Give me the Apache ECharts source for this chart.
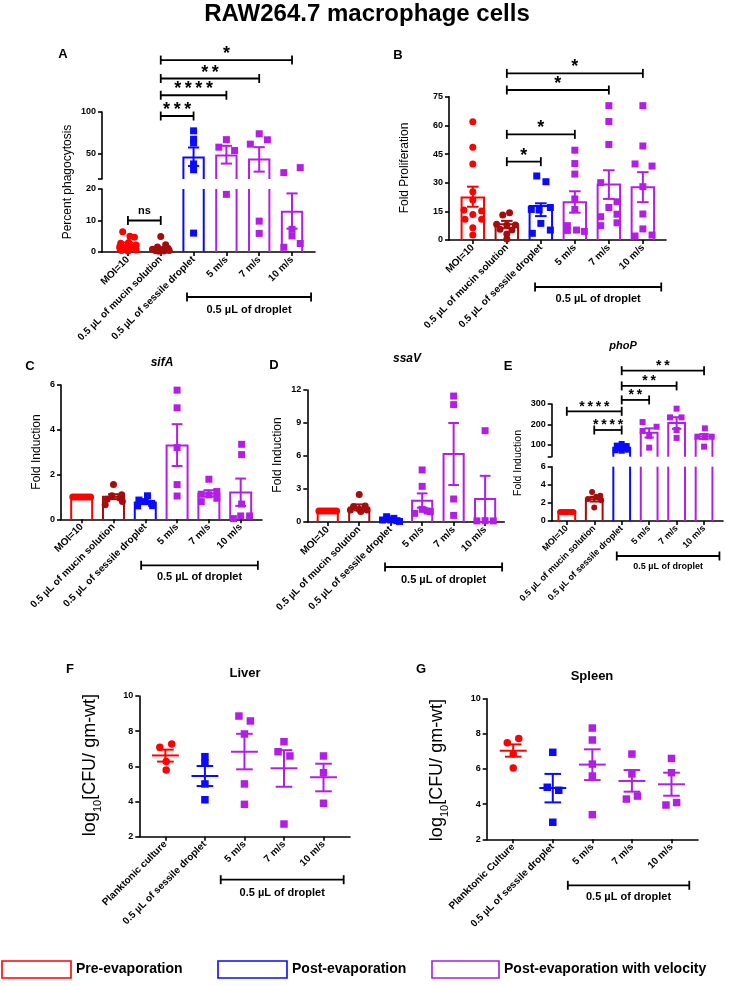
<!DOCTYPE html>
<html>
<head>
<meta charset="utf-8">
<script src="https://cdn.jsdelivr.net/npm/echarts@6/dist/echarts.min.js"></script>
<style>
  html, body { margin: 0; padding: 0; background: #fff; }
  #chart { width: 748px; height: 986px; }
</style>
</head>
<body>
<div id="chart"></div>
<script>
const RED = '#ff0000', DRED = '#a50d0d', BLUE = '#0a0aff', PURP = '#b21ee6';
const FONT = '"Liberation Sans", Arial, Helvetica, sans-serif';
const TS = '\u2009'; // thin space between stars

// categories
const cellCats = ['MOI=10', '0.5 µL of mucin solution', '0.5 µL of sessile droplet', '5 m/s', '7 m/s', '10 m/s'];
const liverCats = ['Planktonic culture', '0.5 µL of sessile droplet', '5 m/s', '7 m/s', '10 m/s'];
const spleenCats = ['Planktonic Culture', '0.5 µL of sessile droplet', '5 m/s', '7 m/s', '10 m/s'];
const cellColors = [RED, DRED, BLUE, PURP, PURP, PURP];
const cellShapes = ['circle', 'circle', 'rect', 'rect', 'rect', 'rect'];
const mouseColors = [RED, BLUE, PURP, PURP, PURP];
const mouseShapes = ['circle', 'rect', 'rect', 'rect', 'rect'];

// A - percent phagocytosis (points: [offset in category, value])
const meanA = [2.2, 1.0, 45.6, 48.0, 43.2, 12.8];
const semA = [[1.5, 3.0], [0.7, 1.4], [35.6, 57.6], [38.4, 59.6], [28.8, 58.0], [7.4, 18.6]];
const ptsA = [
  [[-0.16, 6.4], [0.06, 5.0], [0.2, 4.7], [-0.22, 2.8], [0.02, 3.0], [0.25, 2.2], [-0.25, 1.5], [-0.1, 1.2], [0.1, 1.4], [0.25, 0.6], [-0.2, 0.5], [0.0, 0.3]],
  [[0.0, 4.9], [0.15, 2.3], [-0.1, 1.6], [0.22, 1.2], [-0.25, 0.9], [0.05, 0.8], [0.26, 0.5], [-0.15, 0.4], [0.1, 0.3], [-0.05, 0.2]],
  [[0, 77.5], [0, 67.5], [0, 63], [0, 38], [0, 31], [0, 6]],
  [[-0.23, 58], [0, 67], [0.25, 54], [0, 18.3]],
  [[-0.27, 61.6], [0, 74], [0.25, 66.8], [0, 9.8], [0, 5.9]],
  [[-0.25, 27.6], [0.25, 33.6], [0, 7.2], [0, 5.1], [-0.25, 1.5], [0.25, 2.7]]
];
const sigA = [[1, 2, 95.2, 3, 0], [1, 3, 120, 4, 0], [1, 4, 140, 2, 0], [1, 5, 162, 1, 0], [0, 1, 10, 'ns', 1]];

// B - fold proliferation
const meanB = [22.3, 8.2, 17.8, 19.7, 29.1, 27.6];
const semB = [[17.4, 27.9], [6.2, 10.0], [12.5, 19.2], [14.3, 25.5], [21.5, 36.5], [19.8, 35.5]];
const ptsB = [
  [[0, 61.9], [0, 48.5], [0, 39.8], [0, 25.3], [0, 21], [-0.26, 15.7], [0.26, 15.2], [0, 13.4], [-0.23, 10.8], [0.26, 10.8], [0, 6.4], [0, 2.6]],
  [[0.08, 14.3], [-0.12, 13.1], [-0.3, 8.2], [0, 7.8], [0.25, 7.8], [-0.2, 5.6], [0.15, 5.2], [0, 3.1], [0, 0.5]],
  [[-0.12, 33.5], [0.15, 30.5], [-0.05, 15.7], [0.28, 17], [-0.28, 16], [0, 8.7], [0.28, 5.2], [-0.25, 3.5]],
  [[0, 47], [0, 40], [0, 34.5], [0, 21.5], [0, 16], [-0.22, 7.5], [-0.22, 5], [0.05, 5.2], [0.28, 4.5]],
  [[0, 70.3], [0, 62], [0, 50], [-0.24, 30], [0.24, 20], [0, 17], [-0.24, 12.2], [0.24, 13.5], [0.24, 9], [-0.24, 7.5]],
  [[0, 70.3], [0, 49.2], [-0.23, 39.8], [0.27, 38.7], [0, 27.9], [0, 13.6], [0, 5.8], [-0.23, 2.1], [0.27, 2.6]]
];
const sigB = [[1, 5, 87.2, 1, 0], [1, 4, 78.5, 1, 0], [1, 3, 55.3, 1, 0], [1, 2, 41, 1, 0]];

// C - sifA
const meanC = [1.0, 1.01, 0.75, 3.3, 1.15, 1.2];
const semC = [[1, 1], [0.9, 1.12], [0.68, 0.82], [2.38, 4.25], [1.02, 1.3], [0.6, 1.82]];
const ptsC = [
  [[-0.28, 1], [-0.2, 1], [-0.12, 1], [-0.04, 1], [0.04, 1], [0.12, 1], [0.2, 1], [0.28, 1]],
  [[0, 1.55], [0.26, 1.1], [-0.05, 1.05], [0.2, 0.95], [-0.2, 0.9], [0.28, 0.8], [-0.26, 0.65]],
  [[0.07, 1.05], [-0.2, 0.86], [0, 0.79], [0.2, 0.71], [-0.24, 0.6], [0.23, 0.61]],
  [[0, 5.77], [0, 4.98], [0, 3.2], [0, 1.55], [0, 1.04]],
  [[0, 1.79], [-0.24, 0.79], [-0.24, 1.12], [0, 1.09], [0.25, 1.24], [0.25, 0.94]],
  [[0.03, 3.35], [0.03, 2.89], [0.03, 0.68], [0.28, 0.15], [-0.23, 0.03], [0, 0.15]]
];

// D - ssaV
const meanD = [1.0, 1.3, 0.2, 1.94, 6.18, 2.09];
const semD = [[1, 1], [1.05, 1.6], [0.1, 0.3], [1.3, 2.6], [3.36, 9.0], [0, 4.2]];
const ptsD = [
  [[-0.28, 1], [-0.2, 1], [-0.12, 1], [-0.04, 1], [0.04, 1], [0.12, 1], [0.2, 1], [0.28, 1]],
  [[0, 2.5], [-0.18, 1.4], [0.19, 1.45], [0, 1.15], [-0.28, 1.1], [0.25, 1.1], [0.05, 0.95]],
  [[-0.13, 0.48], [0, 0.18], [-0.26, 0.18], [0.2, 0.12], [0.1, 0.33], [0.28, 0.05]],
  [[0, 4.73], [0, 3.24], [-0.24, 0.79], [0, 1.15], [0.16, 1.0], [0.26, 0.94]],
  [[0, 11.45], [0, 10.67], [0, 2.09], [0, 0.6]],
  [[0, 8.3], [-0.26, 0.1], [0, 0.12], [0.26, 0.1]]
];

// E - phoP
const meanE = [1.0, 2.4, 85, 158, 207, 140];
const semE = [[1, 1], [2.15, 2.65], [78, 92], [135, 180], [178, 235], [128, 152]];
const ptsE = [
  [[-0.24, 1], [-0.16, 1], [-0.08, 1], [0, 1], [0.08, 1], [0.16, 1], [0.24, 1]],
  [[-0.08, 3.2], [0.22, 2.8], [-0.23, 2.43], [0.07, 2.69], [0.25, 2.3], [0, 1.5]],
  [[-0.18, 95], [0, 103], [0.18, 93], [-0.12, 82], [0.12, 85], [0, 70], [0.2, 75], [-0.22, 72]],
  [[-0.24, 211], [0.27, 188], [-0.24, 167], [0, 143], [0, 85]],
  [[0, 277], [-0.24, 234], [0.18, 234], [0, 172], [0, 133]],
  [[0.03, 180], [-0.24, 139], [0.03, 136], [0.28, 139], [0, 90]]
];
const sigE = [[2, 5, 464, 2, 0], [2, 4, 389, 2, 0], [2, 3, 320, 2, 0], [0, 2, 264, 4, 0], [1, 2, 172, 4, 0]];

// F - liver
const meanF = [6.62, 5.45, 6.83, 5.89, 5.38];
const semF = [[6.27, 6.95], [4.88, 6.02], [5.83, 7.85], [4.84, 6.92], [4.58, 6.15]];
const ptsF = [
  [[-0.14, 7.08], [0.16, 7.27], [0.02, 6.27], [0.02, 5.79]],
  [[0, 6.55], [0, 6.2], [0, 5.0], [0, 4.1]],
  [[-0.14, 8.86], [0.15, 8.58], [0, 7.84], [0, 5.0], [0, 3.84]],
  [[0, 7.4], [-0.15, 6.83], [0.15, 6.59], [0, 2.72]],
  [[0, 6.59], [0, 5.64], [0, 3.9]]
];

// G - spleen
const meanG = [7.04, 4.92, 6.25, 5.32, 5.13];
const semG = [[6.7, 7.4], [4.1, 5.72], [5.37, 7.12], [4.71, 5.94], [4.48, 5.79]];
const ptsG = [
  [[-0.15, 7.5], [0.14, 7.73], [0, 6.85], [0, 6.06]],
  [[0, 6.95], [-0.14, 4.96], [0.15, 4.79], [0, 2.97]],
  [[0, 8.33], [0, 7.65], [0, 6.28], [0, 5.6], [0, 3.4]],
  [[0, 6.85], [0, 5.72], [-0.14, 4.29], [0.14, 4.46]],
  [[0, 6.6], [0, 5.79], [-0.14, 3.95], [0.13, 4.09]]
];

const grid = [], xAxis = [], yAxis = [], series = [];
const lineStyle = { color: '#000', width: 1.6 };

function starText(n) {
  return typeof n === 'string' ? n : new Array(n).fill('*').join(TS);
}

function addSeg(p, s) {
  const gi = grid.length;
  const idx = p.cats.map((c, i) => i);
  grid.push({ left: p.left, top: s.top, width: p.width, height: s.height, outerBoundsMode: 'none' });
  if (s.bottom) {
    xAxis.push({
      gridIndex: gi, type: 'value', min: p.xmin, max: p.xmax, splitLine: { show: false },
      axisLine: { show: true, onZero: false, lineStyle },
      axisTick: { show: true, customValues: idx, length: 4, lineStyle },
      axisLabel: {
        customValues: idx, formatter: v => p.cats[Math.round(v)], rotate: 45, margin: 6,
        color: '#000', fontSize: p.xfont, fontWeight: 'bold', fontFamily: FONT
      }
    });
  } else {
    xAxis.push({ gridIndex: gi, type: 'value', min: p.xmin, max: p.xmax, show: false });
  }
  const ya = {
    gridIndex: gi, type: 'value', min: s.min, max: s.max, splitLine: { show: false },
    axisLine: { show: true, onZero: false, lineStyle },
    axisTick: { show: true, length: 4, lineStyle },
    axisLabel: { color: '#000', fontSize: 9, fontWeight: 'bold', fontFamily: FONT, margin: 6 }
  };
  if (s.interval) ya.interval = s.interval;
  if (s.labels) {
    ya.axisLabel.customValues = s.labels;
    ya.axisTick.customValues = s.ticks;
  }
  yAxis.push(ya);
  return gi;
}

function barSeries(gi, p, s) {
  return {
    type: 'custom', xAxisIndex: gi, yAxisIndex: gi, z: 3, silent: true,
    data: p.mean.map((m, i) => [i, m]),
    renderItem(params, api) {
      const i = api.value(0), m = api.value(1);
      if (m <= s.min) return null;
      const hw = api.size([1, 0])[0] * p.ratio / 2;
      const b = api.coord([i, s.min]), t = api.coord([i, Math.min(m, s.max)]);
      const st = { stroke: p.colors[i], lineWidth: 2, fill: null };
      if (m > s.max) {
        return { type: 'group', children: [
          { type: 'line', shape: { x1: b[0] - hw, y1: b[1], x2: b[0] - hw, y2: t[1] }, style: st },
          { type: 'line', shape: { x1: b[0] + hw, y1: b[1], x2: b[0] + hw, y2: t[1] }, style: st }
        ] };
      }
      return { type: 'polyline', shape: { points: [[b[0] - hw, b[1]], [t[0] - hw, t[1]], [t[0] + hw, t[1]], [b[0] + hw, b[1]]] }, style: st };
    }
  };
}

function errSeries(gi, p, s) {
  const data = [];
  p.err.forEach((e, i) => {
    if (e[0] >= s.min && e[1] <= s.max) data.push([i, e[0], e[1], p.mean[i]]);
  });
  return {
    type: 'custom', xAxisIndex: gi, yAxisIndex: gi, z: 5, silent: true, data,
    renderItem(params, api) {
      const i = api.value(0), unit = api.size([1, 0])[0];
      const lo = api.coord([i, api.value(1)]), hi = api.coord([i, api.value(2)]), mc = api.coord([i, api.value(3)]);
      const st = { stroke: p.colors[i], lineWidth: 2 };
      const cw = unit * p.cap / 2;
      const kids = [];
      if (hi[1] < lo[1] - 0.5) {
        kids.push({ type: 'line', shape: { x1: lo[0], y1: lo[1], x2: hi[0], y2: hi[1] }, style: st });
        kids.push({ type: 'line', shape: { x1: hi[0] - cw, y1: hi[1], x2: hi[0] + cw, y2: hi[1] }, style: st });
        kids.push({ type: 'line', shape: { x1: lo[0] - cw, y1: lo[1], x2: lo[0] + cw, y2: lo[1] }, style: st });
      }
      if (p.meanW) {
        const mw = unit * p.meanW / 2;
        kids.push({ type: 'line', shape: { x1: mc[0] - mw, y1: mc[1], x2: mc[0] + mw, y2: mc[1] }, style: st });
      }
      return { type: 'group', children: kids };
    }
  };
}

function sigSeries(gi, p, items) {
  return {
    type: 'custom', xAxisIndex: gi, yAxisIndex: gi, z: 6, silent: true,
    data: items.map(q => [q[0], q[1], q[2]]),
    renderItem(params, api) {
      const lab = starText(items[params.dataIndex][3]);
      const a = api.coord([api.value(0), api.value(2)]), b = api.coord([api.value(1), api.value(2)]);
      const st = { stroke: '#000', lineWidth: 1.8 };
      const isNs = lab === 'ns';
      const font = 'bold ' + (isNs ? 11 : p.sigFont) + 'px ' + FONT;
      return { type: 'group', children: [
        { type: 'line', shape: { x1: a[0], y1: a[1], x2: b[0], y2: b[1] }, style: st },
        { type: 'line', shape: { x1: a[0], y1: a[1] - 4.5, x2: a[0], y2: a[1] + 4.5 }, style: st },
        { type: 'line', shape: { x1: b[0], y1: b[1] - 4.5, x2: b[0], y2: b[1] + 4.5 }, style: st },
        { type: 'text', style: {
          text: lab, x: (a[0] + b[0]) / 2, y: a[1] - (isNs ? 10 : p.sigFont * 0.33),
          font, fill: '#000', align: 'center', textAlign: 'center', verticalAlign: 'middle', textVerticalAlign: 'middle'
        } }
      ] };
    }
  };
}

function dropSeries(gi, p, s) {
  const d = p.drop;
  return {
    type: 'custom', xAxisIndex: gi, yAxisIndex: gi, z: 6, silent: true,
    data: [[d[0], d[1]]],
    renderItem(params, api) {
      const a = api.coord([api.value(0), s.min]), b = api.coord([api.value(1), s.min]);
      const y = a[1] + d[2];
      const st = { stroke: '#000', lineWidth: 1.8 };
      return { type: 'group', children: [
        { type: 'line', shape: { x1: a[0], y1: y, x2: b[0], y2: y }, style: st },
        { type: 'line', shape: { x1: a[0], y1: y - 4.5, x2: a[0], y2: y + 4.5 }, style: st },
        { type: 'line', shape: { x1: b[0], y1: y - 4.5, x2: b[0], y2: y + 4.5 }, style: st },
        { type: 'text', style: {
          text: '0.5 µL of droplet', x: (a[0] + b[0]) / 2, y: a[1] + d[3],
          font: 'bold ' + d[4] + 'px ' + FONT, fill: '#000',
          align: 'center', textAlign: 'center', verticalAlign: 'middle', textVerticalAlign: 'middle'
        } }
      ] };
    }
  };
}

function addPanel(p) {
  p.segs.forEach((s, k) => {
    const gi = addSeg(p, s);
    if (p.kind === 'bar') series.push(barSeries(gi, p, s));
    series.push(errSeries(gi, p, s));
    p.pts.forEach((arr, i) => {
      const d = arr.filter(q => q[1] >= s.min && q[1] <= s.max).map(q => [i + q[0], q[1]]);
      if (!d.length) return;
      series.push({
        type: 'scatter', xAxisIndex: gi, yAxisIndex: gi, z: 4, silent: true,
        symbol: p.shapes[i], symbolSize: p.sym, itemStyle: { color: p.colors[i], opacity: 1 }, data: d
      });
    });
    const sg = (p.sig || []).filter(q => q[4] === k);
    if (sg.length) series.push(sigSeries(gi, p, sg));
    if (s.bottom && p.drop) series.push(dropSeries(gi, p, s));
  });
}

addPanel({
  left: 102, width: 213, xmin: -0.79, xmax: 5.7, cats: cellCats, colors: cellColors, shapes: cellShapes,
  kind: 'bar', ratio: 0.62, cap: 0.34, xfont: 10, sym: 7, mean: meanA, err: semA, pts: ptsA, sig: sigA, sigFont: 18,
  drop: [1.8, 5.58, 45, 58, 11],
  segs: [
    { top: 112, height: 67, min: 20, max: 100, labels: [50, 100], ticks: [20, 50, 100] },
    { top: 189, height: 63, min: 0, max: 20, interval: 10, bottom: true }
  ]
});
addPanel({
  left: 449, width: 217, xmin: -0.7, xmax: 5.68, cats: cellCats, colors: cellColors, shapes: cellShapes,
  kind: 'bar', ratio: 0.66, cap: 0.34, xfont: 10, sym: 7, mean: meanB, err: semB, pts: ptsB, sig: sigB, sigFont: 18,
  drop: [1.83, 5.54, 47, 59, 11],
  segs: [{ top: 96.7, height: 143.3, min: 0, max: 75, interval: 15, bottom: true }]
});
addPanel({
  left: 61, width: 201, xmin: -0.65, xmax: 5.67, cats: cellCats, colors: cellColors, shapes: cellShapes,
  kind: 'bar', ratio: 0.66, cap: 0.34, xfont: 10, sym: 7, mean: meanC, err: semC, pts: ptsC,
  drop: [1.87, 5.54, 46, 58, 11],
  segs: [{ top: 385, height: 134.3, min: 0, max: 6, interval: 2, bottom: true }]
});
addPanel({
  left: 307.3, width: 197, xmin: -0.65, xmax: 5.61, cats: cellCats, colors: cellColors, shapes: cellShapes,
  kind: 'bar', ratio: 0.64, cap: 0.34, xfont: 10, sym: 7, mean: meanD, err: semD, pts: ptsD,
  drop: [1.82, 5.54, 45, 58, 11],
  segs: [{ top: 390, height: 132, min: 0, max: 12, interval: 3, bottom: true }]
});
addPanel({
  left: 551.7, width: 171.3, xmin: -0.55, xmax: 5.69, cats: cellCats, colors: cellColors, shapes: cellShapes,
  kind: 'bar', ratio: 0.61, cap: 0.34, xfont: 9, sym: 6, mean: meanE, err: semE, pts: ptsE, sig: sigE, sigFont: 14,
  drop: [1.82, 5.56, 35, 46, 9],
  segs: [
    { top: 404, height: 52.8, min: 40, max: 300, labels: [100, 200, 300], ticks: [40, 100, 200, 300] },
    { top: 466.7, height: 54.3, min: 0, max: 6, interval: 2, bottom: true }
  ]
});
addPanel({
  left: 139.3, width: 210.7, xmin: -0.66, xmax: 4.67, cats: liverCats, colors: mouseColors, shapes: mouseShapes,
  kind: 'dot', meanW: 0.68, cap: 0.42, xfont: 10, sym: 7.5, mean: meanF, err: semF, pts: ptsF,
  drop: [1.40, 4.51, 43, 56, 11],
  segs: [{ top: 696, height: 140.7, min: 2, max: 10, interval: 2, bottom: true }]
});
addPanel({
  left: 486.7, width: 211.3, xmin: -0.67, xmax: 4.67, cats: spleenCats, colors: mouseColors, shapes: mouseShapes,
  kind: 'dot', meanW: 0.68, cap: 0.42, xfont: 10, sym: 7.5, mean: meanG, err: semG, pts: ptsG,
  drop: [1.38, 4.45, 46, 58, 11],
  segs: [{ top: 698.7, height: 140.6, min: 2, max: 10, interval: 2, bottom: true }]
});

function txt(text, x, y, font, rot) {
  return {
    type: 'text', x, y, rotation: rot ? Math.PI / 2 : 0, silent: true,
    style: { text, font: font + ' ' + FONT, fill: '#000', align: 'center', textAlign: 'center', verticalAlign: 'middle', textVerticalAlign: 'middle' }
  };
}
function logTitle(x, y) {
  return {
    type: 'text', x, y, rotation: Math.PI / 2, silent: true,
    style: {
      text: '{a|log}{b|10}{a|[CFU/ gm-wt]}', align: 'center', textAlign: 'center', verticalAlign: 'middle', textVerticalAlign: 'middle',
      rich: {
        a: { fontSize: 18, fontFamily: FONT, fill: '#000', lineHeight: 26, verticalAlign: 'middle' },
        b: { fontSize: 11, fontFamily: FONT, fill: '#000', lineHeight: 12, verticalAlign: 'bottom' }
      }
    }
  };
}
function legendItem(x, w, color, label) {
  return [
    { type: 'rect', silent: true, shape: { x, y: 961, width: w, height: 17 }, style: { fill: '#fff', stroke: color, lineWidth: 1.6 } },
    { type: 'text', silent: true, x: x + w + 5, y: 969.5, style: { text: label, font: 'bold 14px ' + FONT, fill: '#000', align: 'left', textAlign: 'left', verticalAlign: 'middle', textVerticalAlign: 'middle' } }
  ];
}

const graphic = [
  txt('RAW264.7 macrophage cells', 367, 14, 'bold 24px'),
  txt('A', 63, 54, 'bold 13px'), txt('B', 398, 55, 'bold 13px'), txt('C', 30, 366, 'bold 13px'),
  txt('D', 274, 365, 'bold 13px'), txt('E', 508, 366, 'bold 13px'), txt('F', 70, 669, 'bold 13px'), txt('G', 421, 669, 'bold 13px'),
  txt('sifA', 162, 363, 'italic bold 12px'), txt('ssaV', 407, 359, 'italic bold 12px'), txt('phoP', 623, 346, 'italic bold 11px'),
  txt('Liver', 245, 673, 'bold 13px'), txt('Spleen', 592, 676, 'bold 13px'),
  txt('Percent phagocytosis', 68, 182, '12px', true),
  txt('Fold Proliferation', 405, 168, '12px', true),
  txt('Fold Induction', 37, 452, '12px', true),
  txt('Fold Induction', 278, 455, '12px', true),
  txt('Fold Induction', 518, 463, '10.5px', true),
  logTitle(90, 765), logTitle(437, 770),
  ...legendItem(2, 69, RED, 'Pre-evaporation'),
  ...legendItem(218, 69, BLUE, 'Post-evaporation'),
  ...legendItem(432, 67, '#a020f0', 'Post-evaporation with velocity')
];

const chart = echarts.init(document.getElementById('chart'));
chart.setOption({ animation: false, backgroundColor: '#fff', grid, xAxis, yAxis, series, graphic });
</script>
</body>
</html>
